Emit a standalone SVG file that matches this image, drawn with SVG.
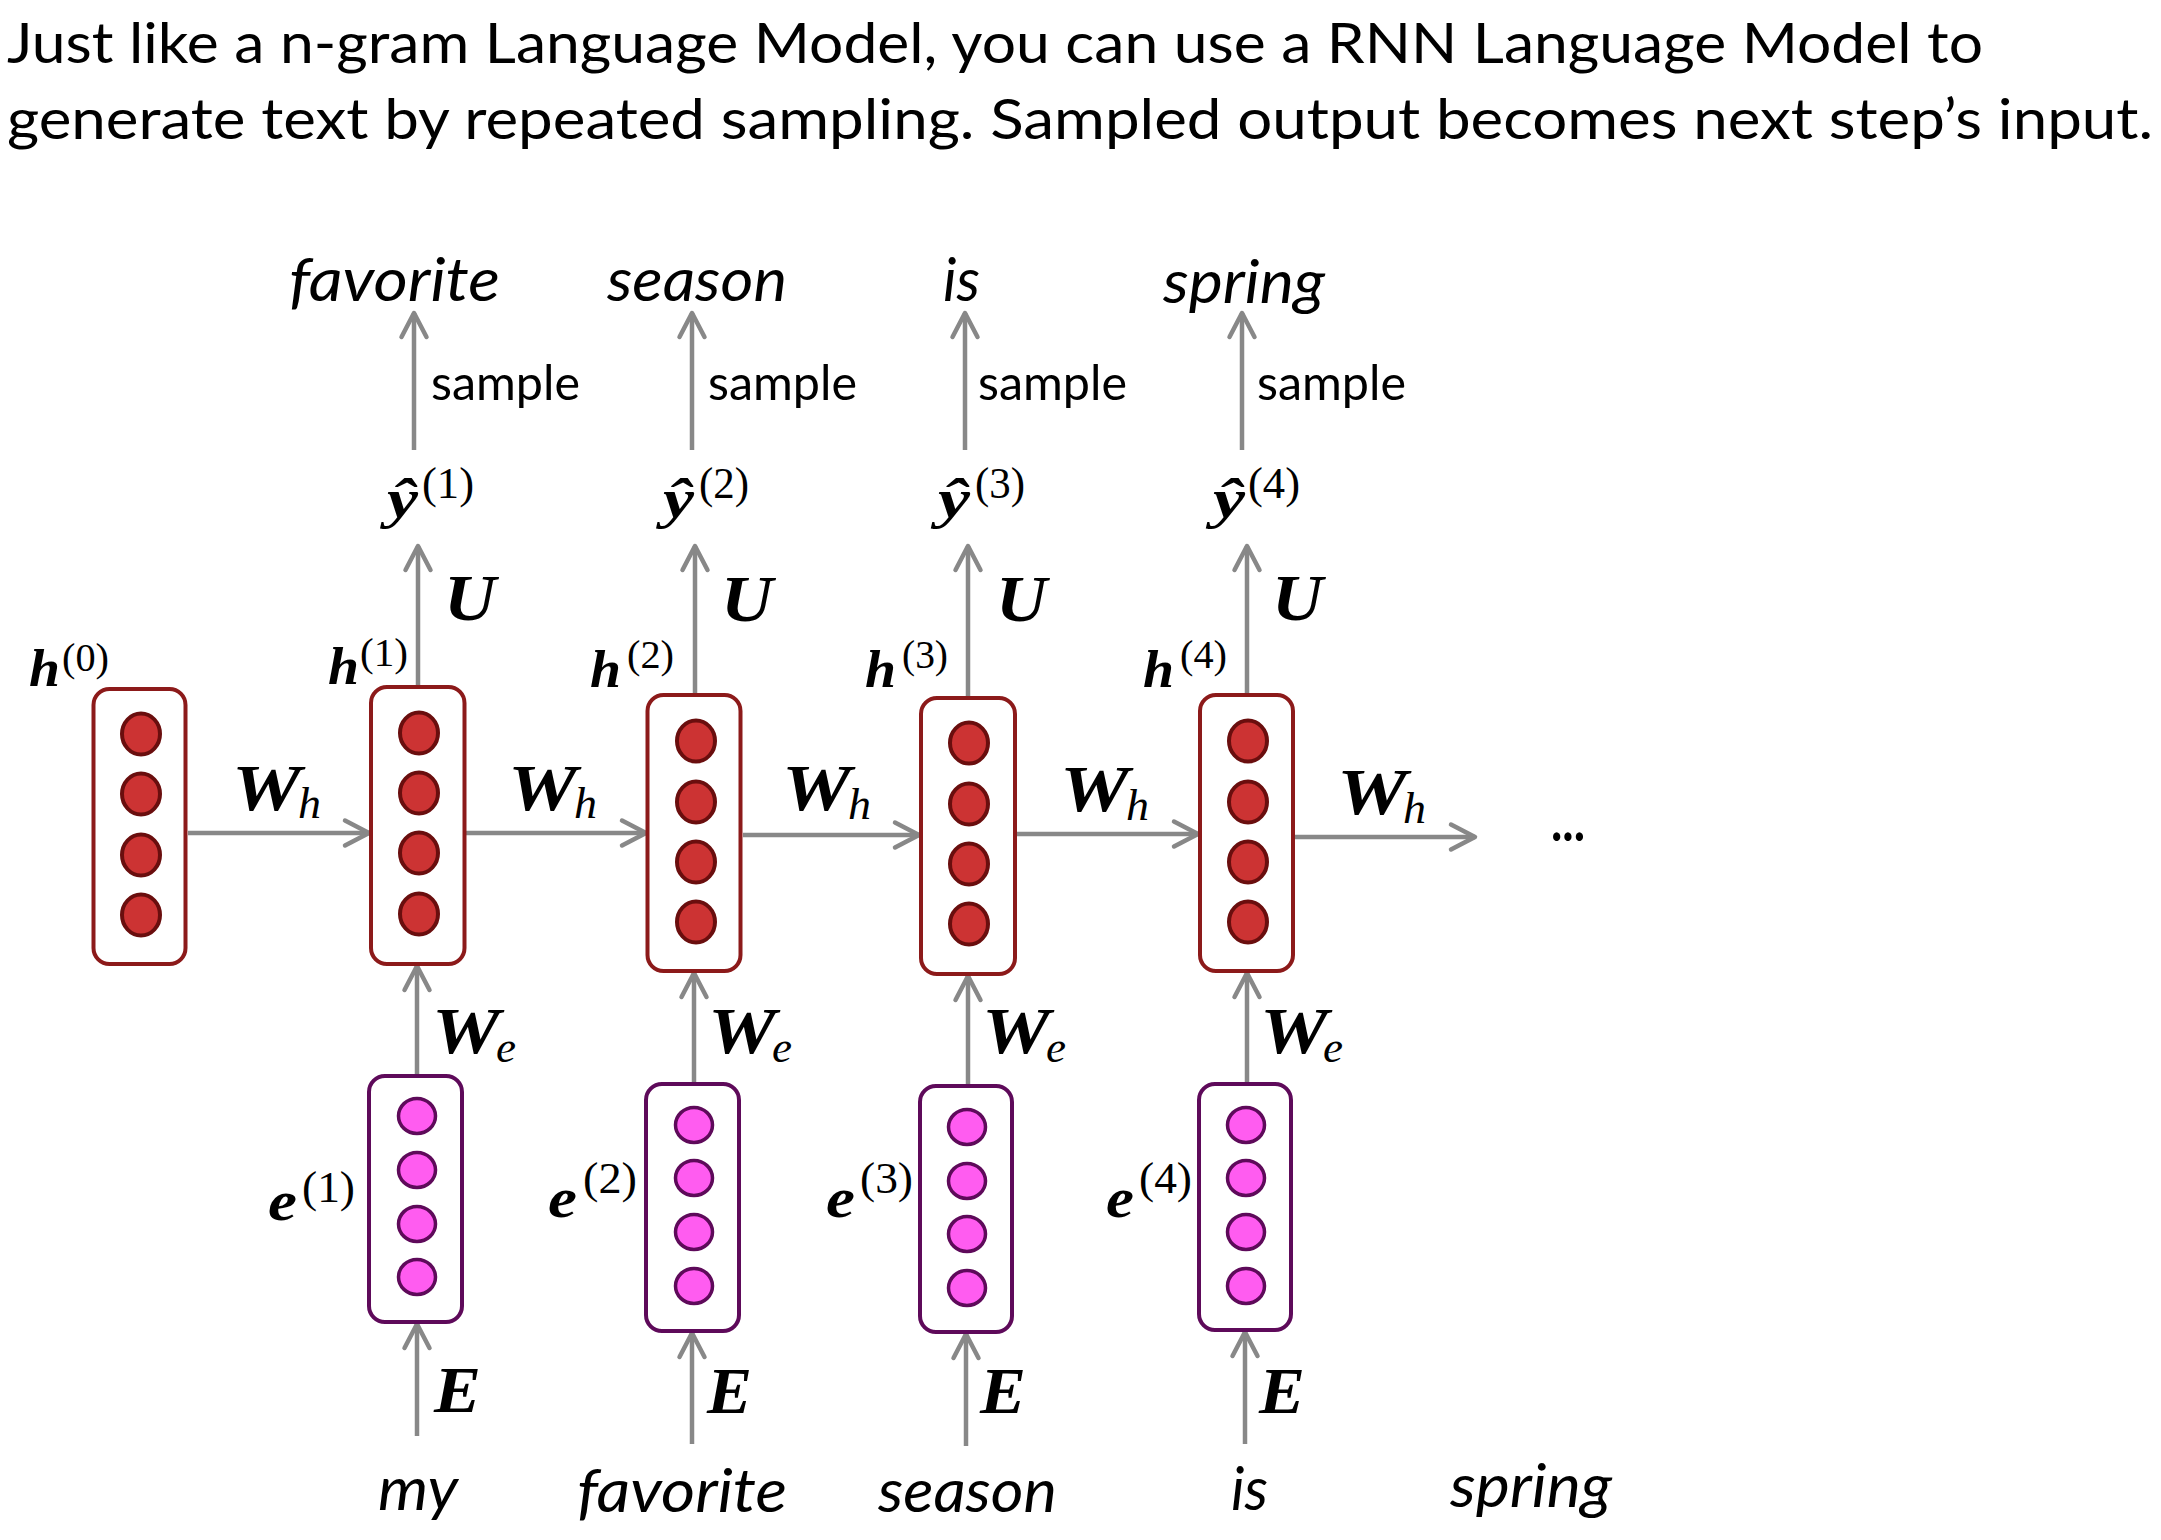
<svg xmlns="http://www.w3.org/2000/svg" width="2161" height="1540" viewBox="0 0 2161 1540">
<style>
.hdr{font-family:Lato,"Liberation Sans",sans-serif;font-size:57px;fill:#000}
.word{font-family:Lato,"Liberation Sans",sans-serif;font-style:italic;font-size:60px;fill:#000}
.smp{font-family:Lato,"Liberation Sans",sans-serif;font-size:48px;fill:#000}
.mb{font-family:"Liberation Serif","DejaVu Serif",serif;font-style:italic;font-weight:bold;fill:#000}
.mi{font-family:"Liberation Serif","DejaVu Serif",serif;font-style:italic;fill:#000}
.mr{font-family:"Liberation Serif","DejaVu Serif",serif;fill:#000}
.cap{font-size:66px}
.hl{font-size:52px}
.el{font-size:56px}
.yl{font-size:54px}
.sub{font-size:44px}
.sup{font-size:44px}
.hsup{font-size:41px}
.hbox{fill:#fff;stroke:#8c1a1a;stroke-width:4}
.hc{fill:#cc3333;stroke:#6a0e0e;stroke-width:4}
.ebox{fill:#fff;stroke:#5e0a5a;stroke-width:4}
.ec{fill:#ff5cf0;stroke:#5e0a5a;stroke-width:3.5}
.arr{fill:none;stroke:#888;stroke-width:4.5;marker-end:url(#ah)}
</style>
<defs>
<marker id="ah" markerUnits="userSpaceOnUse" markerWidth="40" markerHeight="40" refX="30" refY="20" orient="auto" overflow="visible">
<path d="M6 7.5 L30 20 L6 32.5" fill="none" stroke="#888" stroke-width="4.5" stroke-linecap="round" stroke-linejoin="round"/>
</marker>
</defs>

<g id="header">
<text class="hdr" x="7" y="63" textLength="1976" lengthAdjust="spacingAndGlyphs">Just like a n-gram Language Model, you can use a RNN Language Model to</text>
<text class="hdr" x="7" y="139" textLength="2146" lengthAdjust="spacingAndGlyphs">generate text by repeated sampling. Sampled output becomes next step’s input.</text>
</g>

<g id="connectors">
<path class="arr" d="M188 833 L369 833"/>
<path class="arr" d="M466 833 L646 833"/>
<path class="arr" d="M743 835 L919 835"/>
<path class="arr" d="M1017 834 L1198 834"/>
<path class="arr" d="M1295 837 L1475 837"/>
<path class="arr" d="M418 686 L418 546"/>
<path class="arr" d="M695 694 L695 546"/>
<path class="arr" d="M968 697 L968 546"/>
<path class="arr" d="M1247 694 L1247 546"/>
<path class="arr" d="M414 450 L414 313"/>
<path class="arr" d="M692 450 L692 313"/>
<path class="arr" d="M965 450 L965 313"/>
<path class="arr" d="M1242 450 L1242 313"/>
<path class="arr" d="M417 1075 L417 966"/>
<path class="arr" d="M694 1083 L694 973"/>
<path class="arr" d="M968 1085 L968 976"/>
<path class="arr" d="M1247 1083 L1247 973"/>
<path class="arr" d="M417 1436 L417 1324"/>
<path class="arr" d="M692 1444 L692 1333"/>
<path class="arr" d="M966 1446 L966 1334"/>
<path class="arr" d="M1245 1444 L1245 1332"/>
</g>

<g id="h0">
<rect class="hbox" x="93.5" y="689" width="92" height="275" rx="16"/>
<ellipse class="hc" cx="141" cy="734" rx="19" ry="20.5"/>
<ellipse class="hc" cx="141" cy="794" rx="19" ry="20.5"/>
<ellipse class="hc" cx="141" cy="855" rx="19" ry="20.5"/>
<ellipse class="hc" cx="141" cy="915" rx="19" ry="20.5"/>
<text class="mb hl" x="29" y="686" textLength="31" lengthAdjust="spacingAndGlyphs">h</text>
<text class="mr hsup" x="62" y="671" textLength="47" lengthAdjust="spacingAndGlyphs">(0)</text>
</g>

<g id="h1">
<rect class="hbox" x="371" y="687" width="93.5" height="277" rx="16"/>
<ellipse class="hc" cx="419" cy="733" rx="19" ry="20.5"/>
<ellipse class="hc" cx="419" cy="793" rx="19" ry="20.5"/>
<ellipse class="hc" cx="419" cy="853" rx="19" ry="20.5"/>
<ellipse class="hc" cx="419" cy="914" rx="19" ry="20.5"/>
<text class="mb hl" x="328" y="684" textLength="31" lengthAdjust="spacingAndGlyphs">h</text>
<text class="mr hsup" x="360" y="666" textLength="48" lengthAdjust="spacingAndGlyphs">(1)</text>
</g>

<g id="h2">
<rect class="hbox" x="647.5" y="695" width="93" height="276" rx="16"/>
<ellipse class="hc" cx="696" cy="741" rx="19" ry="20.5"/>
<ellipse class="hc" cx="696" cy="802" rx="19" ry="20.5"/>
<ellipse class="hc" cx="696" cy="862" rx="19" ry="20.5"/>
<ellipse class="hc" cx="696" cy="922" rx="19" ry="20.5"/>
<text class="mb hl" x="590" y="687" textLength="31" lengthAdjust="spacingAndGlyphs">h</text>
<text class="mr hsup" x="627" y="668" textLength="47" lengthAdjust="spacingAndGlyphs">(2)</text>
</g>

<g id="h3">
<rect class="hbox" x="921" y="698" width="94" height="276" rx="16"/>
<ellipse class="hc" cx="969" cy="743" rx="19" ry="20.5"/>
<ellipse class="hc" cx="969" cy="804" rx="19" ry="20.5"/>
<ellipse class="hc" cx="969" cy="864" rx="19" ry="20.5"/>
<ellipse class="hc" cx="969" cy="924" rx="19" ry="20.5"/>
<text class="mb hl" x="865" y="687" textLength="31" lengthAdjust="spacingAndGlyphs">h</text>
<text class="mr hsup" x="902" y="668" textLength="46" lengthAdjust="spacingAndGlyphs">(3)</text>
</g>

<g id="h4">
<rect class="hbox" x="1200" y="695" width="93" height="276" rx="16"/>
<ellipse class="hc" cx="1248" cy="741" rx="19" ry="20.5"/>
<ellipse class="hc" cx="1248" cy="802" rx="19" ry="20.5"/>
<ellipse class="hc" cx="1248" cy="862" rx="19" ry="20.5"/>
<ellipse class="hc" cx="1248" cy="922" rx="19" ry="20.5"/>
<text class="mb hl" x="1143" y="687" textLength="31" lengthAdjust="spacingAndGlyphs">h</text>
<text class="mr hsup" x="1180" y="668" textLength="47" lengthAdjust="spacingAndGlyphs">(4)</text>
</g>

<g id="e1">
<rect class="ebox" x="369" y="1076" width="93" height="246" rx="16"/>
<ellipse class="ec" cx="417" cy="1116" rx="18.5" ry="17.5"/>
<ellipse class="ec" cx="417" cy="1170" rx="18.5" ry="17.5"/>
<ellipse class="ec" cx="417" cy="1224" rx="18.5" ry="17.5"/>
<ellipse class="ec" cx="417" cy="1277" rx="18.5" ry="17.5"/>
<text class="mb el" x="268" y="1220" textLength="29" lengthAdjust="spacingAndGlyphs">e</text>
<text class="mr sup" x="302" y="1202" textLength="53" lengthAdjust="spacingAndGlyphs">(1)</text>
</g>

<g id="e2">
<rect class="ebox" x="646" y="1084" width="93" height="247" rx="16"/>
<ellipse class="ec" cx="694" cy="1125" rx="18.5" ry="17.5"/>
<ellipse class="ec" cx="694" cy="1178" rx="18.5" ry="17.5"/>
<ellipse class="ec" cx="694" cy="1232" rx="18.5" ry="17.5"/>
<ellipse class="ec" cx="694" cy="1286" rx="18.5" ry="17.5"/>
<text class="mb el" x="548" y="1217" textLength="29" lengthAdjust="spacingAndGlyphs">e</text>
<text class="mr sup" x="583" y="1193" textLength="54" lengthAdjust="spacingAndGlyphs">(2)</text>
</g>

<g id="e3">
<rect class="ebox" x="920" y="1086" width="92" height="246" rx="16"/>
<ellipse class="ec" cx="967" cy="1127" rx="18.5" ry="17.5"/>
<ellipse class="ec" cx="967" cy="1181" rx="18.5" ry="17.5"/>
<ellipse class="ec" cx="967" cy="1234" rx="18.5" ry="17.5"/>
<ellipse class="ec" cx="967" cy="1288" rx="18.5" ry="17.5"/>
<text class="mb el" x="826" y="1217" textLength="29" lengthAdjust="spacingAndGlyphs">e</text>
<text class="mr sup" x="860" y="1193" textLength="53" lengthAdjust="spacingAndGlyphs">(3)</text>
</g>

<g id="e4">
<rect class="ebox" x="1199" y="1084" width="92" height="246" rx="16"/>
<ellipse class="ec" cx="1246" cy="1125" rx="18.5" ry="17.5"/>
<ellipse class="ec" cx="1246" cy="1178" rx="18.5" ry="17.5"/>
<ellipse class="ec" cx="1246" cy="1232" rx="18.5" ry="17.5"/>
<ellipse class="ec" cx="1246" cy="1286" rx="18.5" ry="17.5"/>
<text class="mb el" x="1106" y="1217" textLength="28" lengthAdjust="spacingAndGlyphs">e</text>
<text class="mr sup" x="1139" y="1193" textLength="53" lengthAdjust="spacingAndGlyphs">(4)</text>
</g>

<g id="y1">
<text class="mb yl" x="387" y="517" textLength="31" lengthAdjust="spacingAndGlyphs">ŷ</text>
<text class="mr sup" x="422" y="498" textLength="52" lengthAdjust="spacingAndGlyphs">(1)</text>
</g>
<g id="y2">
<text class="mb yl" x="663" y="517" textLength="31" lengthAdjust="spacingAndGlyphs">ŷ</text>
<text class="mr sup" x="699" y="498" textLength="50" lengthAdjust="spacingAndGlyphs">(2)</text>
</g>
<g id="y3">
<text class="mb yl" x="938" y="517" textLength="32" lengthAdjust="spacingAndGlyphs">ŷ</text>
<text class="mr sup" x="975" y="498" textLength="50" lengthAdjust="spacingAndGlyphs">(3)</text>
</g>
<g id="y4">
<text class="mb yl" x="1213" y="517" textLength="32" lengthAdjust="spacingAndGlyphs">ŷ</text>
<text class="mr sup" x="1248" y="498" textLength="52" lengthAdjust="spacingAndGlyphs">(4)</text>
</g>

<g id="edge-labels">
<text class="mb cap" x="444" y="620" textLength="52" lengthAdjust="spacingAndGlyphs">U</text>
<text class="mb cap" x="721" y="621" textLength="52" lengthAdjust="spacingAndGlyphs">U</text>
<text class="mb cap" x="996" y="621" textLength="51" lengthAdjust="spacingAndGlyphs">U</text>
<text class="mb cap" x="1272" y="620" textLength="51" lengthAdjust="spacingAndGlyphs">U</text>

<text class="mb cap" x="232" y="810" textLength="69" lengthAdjust="spacingAndGlyphs">W</text>
<text class="mi sub" x="298" y="818" textLength="23" lengthAdjust="spacingAndGlyphs">h</text>
<text class="mb cap" x="508" y="810" textLength="69" lengthAdjust="spacingAndGlyphs">W</text>
<text class="mi sub" x="574" y="818" textLength="23" lengthAdjust="spacingAndGlyphs">h</text>
<text class="mb cap" x="782" y="810" textLength="69" lengthAdjust="spacingAndGlyphs">W</text>
<text class="mi sub" x="848" y="819" textLength="23" lengthAdjust="spacingAndGlyphs">h</text>
<text class="mb cap" x="1060" y="811" textLength="69" lengthAdjust="spacingAndGlyphs">W</text>
<text class="mi sub" x="1126" y="820" textLength="23" lengthAdjust="spacingAndGlyphs">h</text>
<text class="mb cap" x="1337" y="814" textLength="70" lengthAdjust="spacingAndGlyphs">W</text>
<text class="mi sub" x="1403" y="823" textLength="23" lengthAdjust="spacingAndGlyphs">h</text>

<text class="mb cap" x="432" y="1053" textLength="68" lengthAdjust="spacingAndGlyphs">W</text>
<text class="mi sub" x="496" y="1062" textLength="20" lengthAdjust="spacingAndGlyphs">e</text>
<text class="mb cap" x="708" y="1053" textLength="68" lengthAdjust="spacingAndGlyphs">W</text>
<text class="mi sub" x="772" y="1062" textLength="20" lengthAdjust="spacingAndGlyphs">e</text>
<text class="mb cap" x="982" y="1053" textLength="68" lengthAdjust="spacingAndGlyphs">W</text>
<text class="mi sub" x="1046" y="1062" textLength="20" lengthAdjust="spacingAndGlyphs">e</text>
<text class="mb cap" x="1260" y="1053" textLength="68" lengthAdjust="spacingAndGlyphs">W</text>
<text class="mi sub" x="1323" y="1062" textLength="20" lengthAdjust="spacingAndGlyphs">e</text>

<text class="mb cap" x="434" y="1412" textLength="47" lengthAdjust="spacingAndGlyphs">E</text>
<text class="mb cap" x="707" y="1413" textLength="45" lengthAdjust="spacingAndGlyphs">E</text>
<text class="mb cap" x="980" y="1413" textLength="46" lengthAdjust="spacingAndGlyphs">E</text>
<text class="mb cap" x="1259" y="1413" textLength="46" lengthAdjust="spacingAndGlyphs">E</text>

<text class="smp" x="431" y="400" textLength="149" lengthAdjust="spacingAndGlyphs">sample</text>
<text class="smp" x="708" y="400" textLength="149" lengthAdjust="spacingAndGlyphs">sample</text>
<text class="smp" x="978" y="400" textLength="149" lengthAdjust="spacingAndGlyphs">sample</text>
<text class="smp" x="1257" y="400" textLength="149" lengthAdjust="spacingAndGlyphs">sample</text>
</g>

<g id="outputs">
<text class="word" x="289" y="301" textLength="211" lengthAdjust="spacingAndGlyphs">favorite</text>
<text class="word" x="607" y="301" textLength="180" lengthAdjust="spacingAndGlyphs">season</text>
<text class="word" x="943" y="301" textLength="37" lengthAdjust="spacingAndGlyphs">is</text>
<text class="word" x="1163" y="303" textLength="162" lengthAdjust="spacingAndGlyphs">spring</text>
</g>

<g id="inputs">
<text class="word" x="378" y="1510" textLength="80" lengthAdjust="spacingAndGlyphs">my</text>
<text class="word" x="577" y="1512" textLength="210" lengthAdjust="spacingAndGlyphs">favorite</text>
<text class="word" x="878" y="1512" textLength="179" lengthAdjust="spacingAndGlyphs">season</text>
<text class="word" x="1231" y="1510" textLength="37" lengthAdjust="spacingAndGlyphs">is</text>
<text class="word" x="1450" y="1507" textLength="162" lengthAdjust="spacingAndGlyphs">spring</text>
</g>

<g id="ellipsis">
<text class="hdr" x="1551" y="841" font-weight="bold" textLength="34" lengthAdjust="spacingAndGlyphs">...</text>
</g>
</svg>
